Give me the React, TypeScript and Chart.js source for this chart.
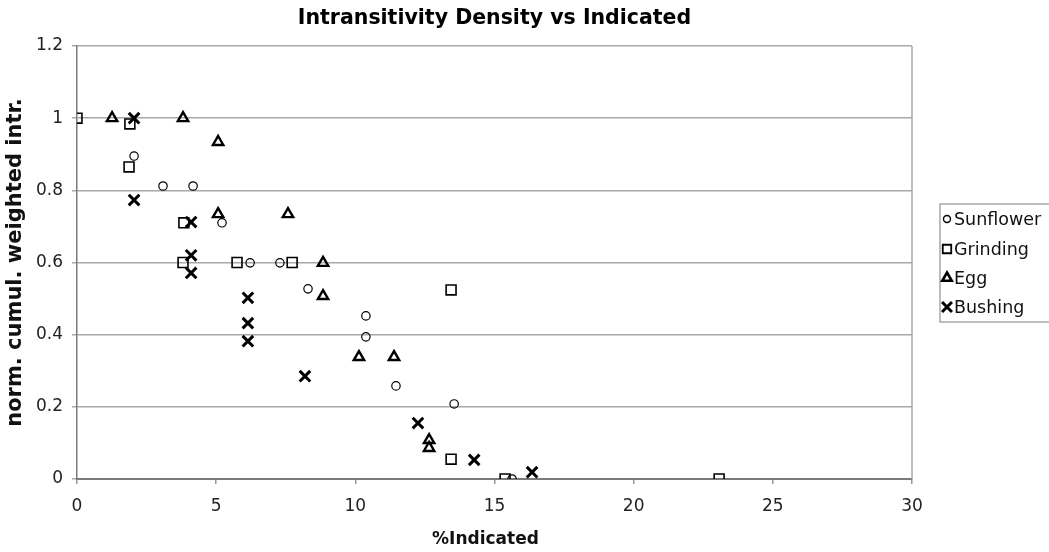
import React, { useEffect, useRef } from "react";
import { Chart, registerables } from "chart.js";
import { drawPoint } from "chart.js/helpers";

Chart.register(...registerables);

const chartTitle = "Intransitivity Density vs Indicated";
const xAxisTitle = "%Indicated";
const yAxisTitle = "norm. cumul. weighted intr.";
const seriesNames = ["Sunflower", "Grinding", "Egg", "Bushing"];

const sunflowerX = [2.05, 3.09, 4.17, 5.21, 6.22, 7.29, 8.3, 10.38, 10.38, 11.46, 13.55, 15.63];
const sunflowerY = [0.895, 0.812, 0.812, 0.71, 0.599, 0.599, 0.527, 0.452, 0.394, 0.258, 0.208, 0];

const grindingX = [0, 1.9, 1.87, 3.84, 3.81, 5.75, 7.73, 13.44, 13.44, 15.38, 23.07];
const grindingY = [1.0, 0.984, 0.865, 0.71, 0.6, 0.6, 0.6, 0.524, 0.055, 0, 0];

const eggX = [1.26, 3.81, 5.07, 5.07, 7.58, 8.84, 8.84, 10.13, 11.39, 12.65, 12.65];
const eggY = [1.0, 1.0, 0.934, 0.734, 0.734, 0.599, 0.507, 0.338, 0.338, 0.108, 0.086];

const bushingX = [2.05, 2.05, 4.1, 4.1, 4.1, 6.14, 6.14, 6.14, 8.19, 12.25, 14.27, 16.35];
const bushingY = [1.0, 0.773, 0.712, 0.62, 0.571, 0.502, 0.432, 0.382, 0.285, 0.155, 0.053, 0.019];

const xTicksMin = 0;
const xTicksMax = 30;
const xStep = 5;
const yTicksMin = 0;
const yTicksMax = 1.2;
const yStep = 0.2;

const FONT = "'DejaVu Sans', Verdana, sans-serif";

const pointStyles = [
  { pointStyle: "circle", radius: 4.2, borderWidth: 1.2 },
  { pointStyle: "rect", radius: 7, borderWidth: 1.6 },
  { pointStyle: "triangle", radius: 6, borderWidth: 2.4 },
  { pointStyle: "crossRot", radius: 7.5, borderWidth: 3 },
];

const legendStyles = [
  { pointStyle: "circle", radius: 3.5, borderWidth: 1.4 },
  { pointStyle: "rect", radius: 6, borderWidth: 1.8 },
  { pointStyle: "triangle", radius: 5.5, borderWidth: 2.6 },
  { pointStyle: "crossRot", radius: 7, borderWidth: 3 },
];

function zip(xs: number[], ys: number[]) {
  return xs.map((x, i) => ({ x, y: ys[i] }));
}

const framePlugin = {
  id: "frame",
  beforeDatasetsDraw(chart: any) {
    const { ctx, chartArea } = chart;
    ctx.save();
    ctx.strokeStyle = "#a8a8a8";
    ctx.lineWidth = 1.5;
    ctx.beginPath();
    ctx.moveTo(chartArea.right, chartArea.top);
    ctx.lineTo(chartArea.right, chartArea.bottom);
    ctx.stroke();
    ctx.restore();
  },
  afterDraw(chart: any) {
    const { ctx, chartArea } = chart;
    ctx.save();
    // title
    ctx.fillStyle = "#000";
    ctx.font = `bold 20.5px ${FONT}`;
    ctx.textAlign = "center";
    ctx.textBaseline = "middle";
    ctx.fillText(chartTitle, (chartArea.left + chartArea.right) / 2, 19);
    // x axis title
    ctx.fillStyle = "#111";
    ctx.font = `bold 17px ${FONT}`;
    ctx.fillText(xAxisTitle, (chartArea.left + chartArea.right) / 2 - 9, 540);
    // legend
    const left = 940;
    const top = 204;
    const w = 120;
    const h = 118;
    ctx.strokeStyle = "#a8a8a8";
    ctx.lineWidth = 1.5;
    ctx.strokeRect(left, top, w, h);
    const rows = [219, 249, 278, 307];
    ctx.font = `17.5px ${FONT}`;
    ctx.textBaseline = "middle";
    ctx.textAlign = "left";
    seriesNames.forEach((name, i) => {
      const st = legendStyles[i];
      ctx.strokeStyle = "#000";
      ctx.fillStyle = "rgba(0,0,0,0)";
      ctx.lineWidth = st.borderWidth;
      drawPoint(ctx, { pointStyle: st.pointStyle, radius: st.radius, rotation: 0, borderWidth: st.borderWidth } as any, 947, rows[i]);
      ctx.fillStyle = "#111";
      ctx.fillText(name, 954, rows[i] + 1);
    });
    ctx.restore();
  },
};

export default function App() {
  const ref = useRef<HTMLCanvasElement | null>(null);
  useEffect(() => {
    if (!ref.current) return;
    const datasetsRaw = [
      zip(sunflowerX, sunflowerY),
      zip(grindingX, grindingY),
      zip(eggX, eggY),
      zip(bushingX, bushingY),
    ];
    const chart = new Chart(ref.current, {
      type: "scatter",
      data: {
        datasets: datasetsRaw.map((d, i) => ({
          label: seriesNames[i],
          data: d,
          showLine: false,
          pointStyle: pointStyles[i].pointStyle as any,
          pointRadius: pointStyles[i].radius,
          pointBorderWidth: pointStyles[i].borderWidth,
          pointBorderColor: "#000",
          pointBackgroundColor: "rgba(0,0,0,0)",
        })),
      },
      options: {
        responsive: false,
        animation: false,
        layout: { padding: { left: 0, right: 137, top: 46, bottom: 0 } },
        plugins: {
          legend: { display: false },
          tooltip: { enabled: false },
          title: { display: false },
        },
        scales: {
          x: {
            type: "linear",
            min: xTicksMin,
            max: xTicksMax,
            afterFit: (s: any) => {
              s.height = 73;
            },
            ticks: { stepSize: xStep, color: "#222", font: { family: FONT, size: 17 }, padding: 12, maxRotation: 0 },
            grid: { drawOnChartArea: false, drawTicks: true, tickLength: 5, color: "#999", lineWidth: 1.5 },
            border: { color: "#7a7a7a", width: 2 },
            title: { display: false },
          },
          y: {
            type: "linear",
            min: yTicksMin,
            max: yTicksMax,
            afterFit: (s: any) => {
              s.width = 77;
            },
            ticks: {
              stepSize: yStep,
              color: "#222",
              font: { family: FONT, size: 17 },
              padding: 9,
              callback: (v: any) => String(Math.round(Number(v) * 10) / 10),
            },
            grid: { drawTicks: true, tickLength: 5, color: "#a8a8a8", lineWidth: 1.5 },
            border: { color: "#7a7a7a", width: 1.5 },
            title: {
              display: true,
              text: yAxisTitle,
              color: "#111",
              font: { family: FONT, size: 21, weight: "bold" },
              padding: { top: 3, bottom: 0 },
            },
          },
        },
      },
      plugins: [framePlugin],
    });
    return () => chart.destroy();
  }, []);
  return (
    <div style={{ position: "absolute", left: 0, top: 0, width: 1049, height: 552, background: "#fff" }}>
      <canvas ref={ref} width={1049} height={552} style={{ display: "block" }} />
    </div>
  );
}
